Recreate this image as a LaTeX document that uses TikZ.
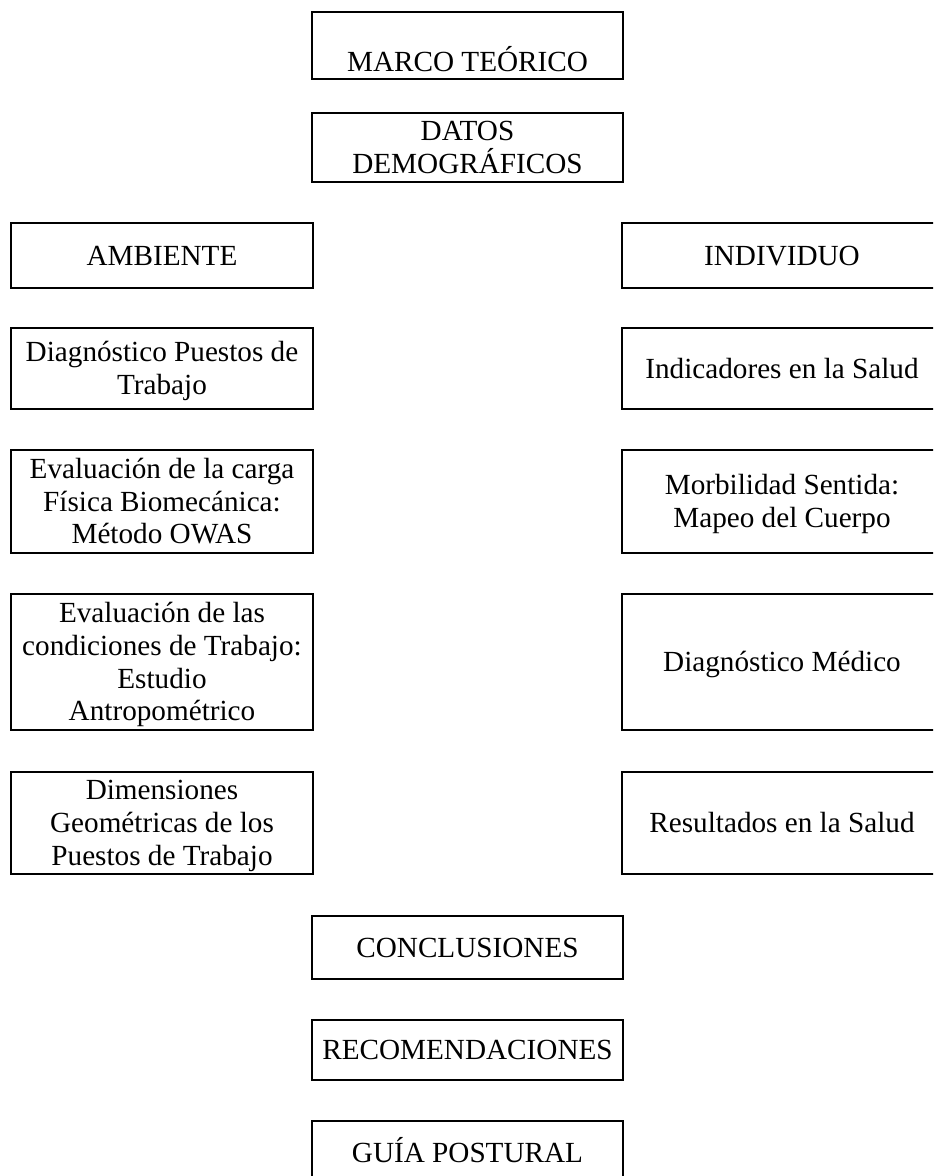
\documentclass[tikz,border=0pt]{standalone}
\usepackage{fontspec}
\setmainfont{Liberation Serif}
\newcommand\boxfont{\fontsize{14.6pt}{16.4pt}\selectfont}
\newcommand\mystrut{\rule[-3.36pt]{0pt}{16.4pt}}
\begin{document}
\begin{tikzpicture}[x=0.5pt,y=-0.5pt,
  box/.style={draw, line width=1pt, inner sep=0pt, align=center, font=\boxfont},
  lbox/.style={box, minimum width=151pt},
  cbox/.style={box, minimum width=155.5pt},
  rbox/.style={box, minimum width=160pt}]
\useasboundingbox (0,0) rectangle (933,1176);
\clip (0,0) rectangle (933,1176);
% centre column
\node[cbox, minimum height=33.5pt] (marco) at (467.5,45.5) {\mystrut\\MARCO TEÓRICO\mystrut};
\node[cbox, minimum height=34.5pt] (datos) at (467.5,147.5) {\mystrut DATOS\\DEMOGRÁFICOS\mystrut};
% left column
\node[lbox, minimum height=32.5pt] (ambiente) at (162,255.5) {\mystrut AMBIENTE\mystrut};
\node[lbox, minimum height=40.5pt] (diagpuestos) at (162,368.5) {\mystrut Diagnóstico Puestos de\\Trabajo\mystrut};
\node[lbox, minimum height=51.5pt] (evalcarga) at (162,501.5) {\mystrut Evaluación de la carga\\Física Biomecánica:\\Método OWAS\mystrut};
\node[lbox, minimum height=68pt] (evalcond) at (162,662) {\mystrut Evaluación de las\\condiciones de Trabajo:\\Estudio\\Antropométrico\mystrut};
\node[lbox, minimum height=51pt] (dimensiones) at (162,823) {\mystrut Dimensiones\\Geométricas de los\\Puestos de Trabajo\mystrut};
% right column
\node[rbox, minimum height=32.5pt] (individuo) at (782,255.5) {\mystrut INDIVIDUO\mystrut};
\node[rbox, minimum height=40.5pt] (indicadores) at (782,368.5) {\mystrut Indicadores en la Salud\mystrut};
\node[rbox, minimum height=51.5pt] (morbilidad) at (782,501.5) {\mystrut Morbilidad Sentida:\\Mapeo del Cuerpo\mystrut};
\node[rbox, minimum height=68pt] (diagmedico) at (782,662) {\mystrut Diagnóstico Médico\mystrut};
\node[rbox, minimum height=51pt] (resultados) at (782,823) {\mystrut Resultados en la Salud\mystrut};
% bottom
\node[cbox, minimum height=31.5pt] (conclusiones) at (467.5,947.5) {\mystrut CONCLUSIONES\mystrut};
\node[cbox, minimum height=30pt] (recomendaciones) at (467.5,1050) {\mystrut RECOMENDACIONES\mystrut};
\node[cbox, minimum height=32pt] (guia) at (467.5,1153) {\mystrut GUÍA POSTURAL\mystrut};
\end{tikzpicture}
\end{document}
